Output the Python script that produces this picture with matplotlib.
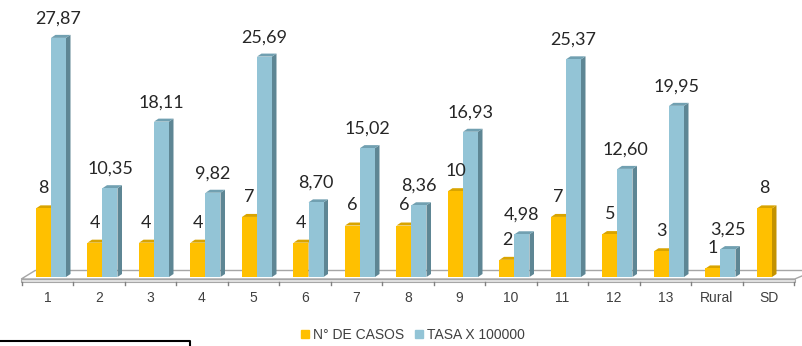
import matplotlib
matplotlib.use("Agg")
import matplotlib.pyplot as plt
from matplotlib.patches import Polygon, Rectangle
from matplotlib.lines import Line2D
import numpy as np

# Data
categories = ["1", "2", "3", "4", "5", "6", "7", "8", "9", "10", "11", "12", "13", "Rural", "SD"]
casos = [8, 4, 4, 4, 7, 4, 6, 6, 10, 2, 7, 5, 3, 1, 8]
tasa = [27.87, 10.35, 18.11, 9.82, 25.69, 8.70, 15.02, 8.36, 16.93, 4.98, 25.37, 12.60, 19.95, 3.25, None]
casos_labels = ["8", "4", "4", "4", "7", "4", "6", "6", "10", "2", "7", "5", "3", "1", "8"]
tasa_labels = ["27,87", "10,35", "18,11", "9,82", "25,69", "8,70", "15,02", "8,36", "16,93",
               "4,98", "25,37", "12,60", "19,95", "3,25", None]

ORANGE, ORANGE_TOP, ORANGE_SIDE = "#FFC000", "#D9A400", "#C39200"
BLUE, BLUE_TOP, BLUE_SIDE = "#93C4D6", "#71A0B1", "#5E8694"
LABEL_FONT = ["Lato", "DejaVu Sans"]
AXIS_FONT = ["Liberation Sans", "DejaVu Sans"]

W, H = 803, 346
fig = plt.figure(figsize=(W / 100, H / 100), dpi=100)
px_cat = 51.5
px_unit = 8.58
x_left = 47.5 - px_cat / 2
ax = fig.add_axes([x_left / W, (H - 277) / H, 15 * px_cat / W, 277 / H])
ax.set_xlim(-0.5, 14.5)
ax.set_ylim(0, 277 / px_unit)
ax.axis("off")

# 3D depth of the bars (in data units)
dx = 4.5 / px_cat
dy = 3.0 / px_unit

# Floor
f_front, f_back = -2.0 / px_unit, 6.5 / px_unit
floor = Polygon([(-0.51, f_front), (-0.24, f_back), (14.9, f_back), (14.51, f_front)],
                closed=True, facecolor="white", edgecolor="#A6A6A6", lw=1.0,
                clip_on=False, zorder=1)
ax.add_patch(floor)
ax.add_patch(Rectangle((-0.51, f_front - 2.5 / px_unit), 15.02, 2.5 / px_unit,
                       facecolor="#E3E3E3", edgecolor="#A6A6A6", lw=0.8,
                       clip_on=False, zorder=1))
for k in range(16):
    xk = -0.5 + k
    ax.plot([xk, xk], [f_front - 2.5 / px_unit, f_front - 5.5 / px_unit],
            color="#808080", lw=1.0, clip_on=False, zorder=1)

x = np.arange(len(categories))
o_left, o_right, b_right = -11.5 / px_cat, 3.5 / px_cat, 18.5 / px_cat
bw = o_right - o_left


def box(ax, x0, x1, h, front, top, side):
    ax.add_patch(Polygon([(x1, 0), (x1 + dx, dy), (x1 + dx, h + dy), (x1, h)],
                         closed=True, facecolor=side, edgecolor="none", zorder=3))
    ax.add_patch(Polygon([(x0, h), (x0 + dx, h + dy), (x1 + dx, h + dy), (x1, h)],
                         closed=True, facecolor=top, edgecolor="none", zorder=3))


# Orange series
for i, v in enumerate(casos):
    box(ax, x[i] + o_left, x[i] + o_right, v, ORANGE, ORANGE_TOP, ORANGE_SIDE)
ax.bar(x + o_left, casos, width=bw, align="edge", color=ORANGE, zorder=4)

# Blue series
tasa_idx = [i for i, v in enumerate(tasa) if v is not None]
tasa_vals = [tasa[i] for i in tasa_idx]
for i, v in zip(tasa_idx, tasa_vals):
    box(ax, x[i] + o_right, x[i] + b_right, v, BLUE, BLUE_TOP, BLUE_SIDE)
ax.bar(np.array(tasa_idx) + o_right, tasa_vals, width=bw, align="edge", color=BLUE, zorder=5)

# Value labels
for i, v in enumerate(casos):
    ax.annotate(casos_labels[i], (x[i] + (o_left + o_right) / 2, v), xytext=(0, 14.5),
                textcoords="offset points", ha="center", va="center",
                fontsize=13, family=LABEL_FONT, color="#262626", zorder=6,
                annotation_clip=False)
for i in tasa_idx:
    ax.annotate(tasa_labels[i], (x[i] + (o_right + b_right) / 2, tasa[i]), xytext=(0, 14),
                textcoords="offset points", ha="center", va="center",
                fontsize=13, family=LABEL_FONT, color="#262626", zorder=6,
                annotation_clip=False)

# Category labels
for i, c in enumerate(categories):
    ax.text(x[i], -21 / px_unit, c, ha="center", va="center", fontsize=10,
            family=AXIS_FONT, color="#404040", clip_on=False)

# Legend
handles = [Rectangle((0, 0), 1, 1, color=ORANGE), Rectangle((0, 0), 1, 1, color=BLUE)]
fig.legend(handles, ["N° DE CASOS", "TASA X 100000"], loc="center",
           bbox_to_anchor=(413 / W, 11 / H), ncol=2, frameon=False,
           prop={"family": AXIS_FONT, "size": 10}, handlelength=0.55, handleheight=0.55,
           handletextpad=0.3, columnspacing=0.8, labelcolor="#404040")

# Fragment of a box in the lower-left corner
fig.add_artist(Line2D([0, 190 / W, 190 / W], [5.5 / H, 5.5 / H, 0], color="black", lw=1.5))

fig.savefig("out.png", dpi=100)
